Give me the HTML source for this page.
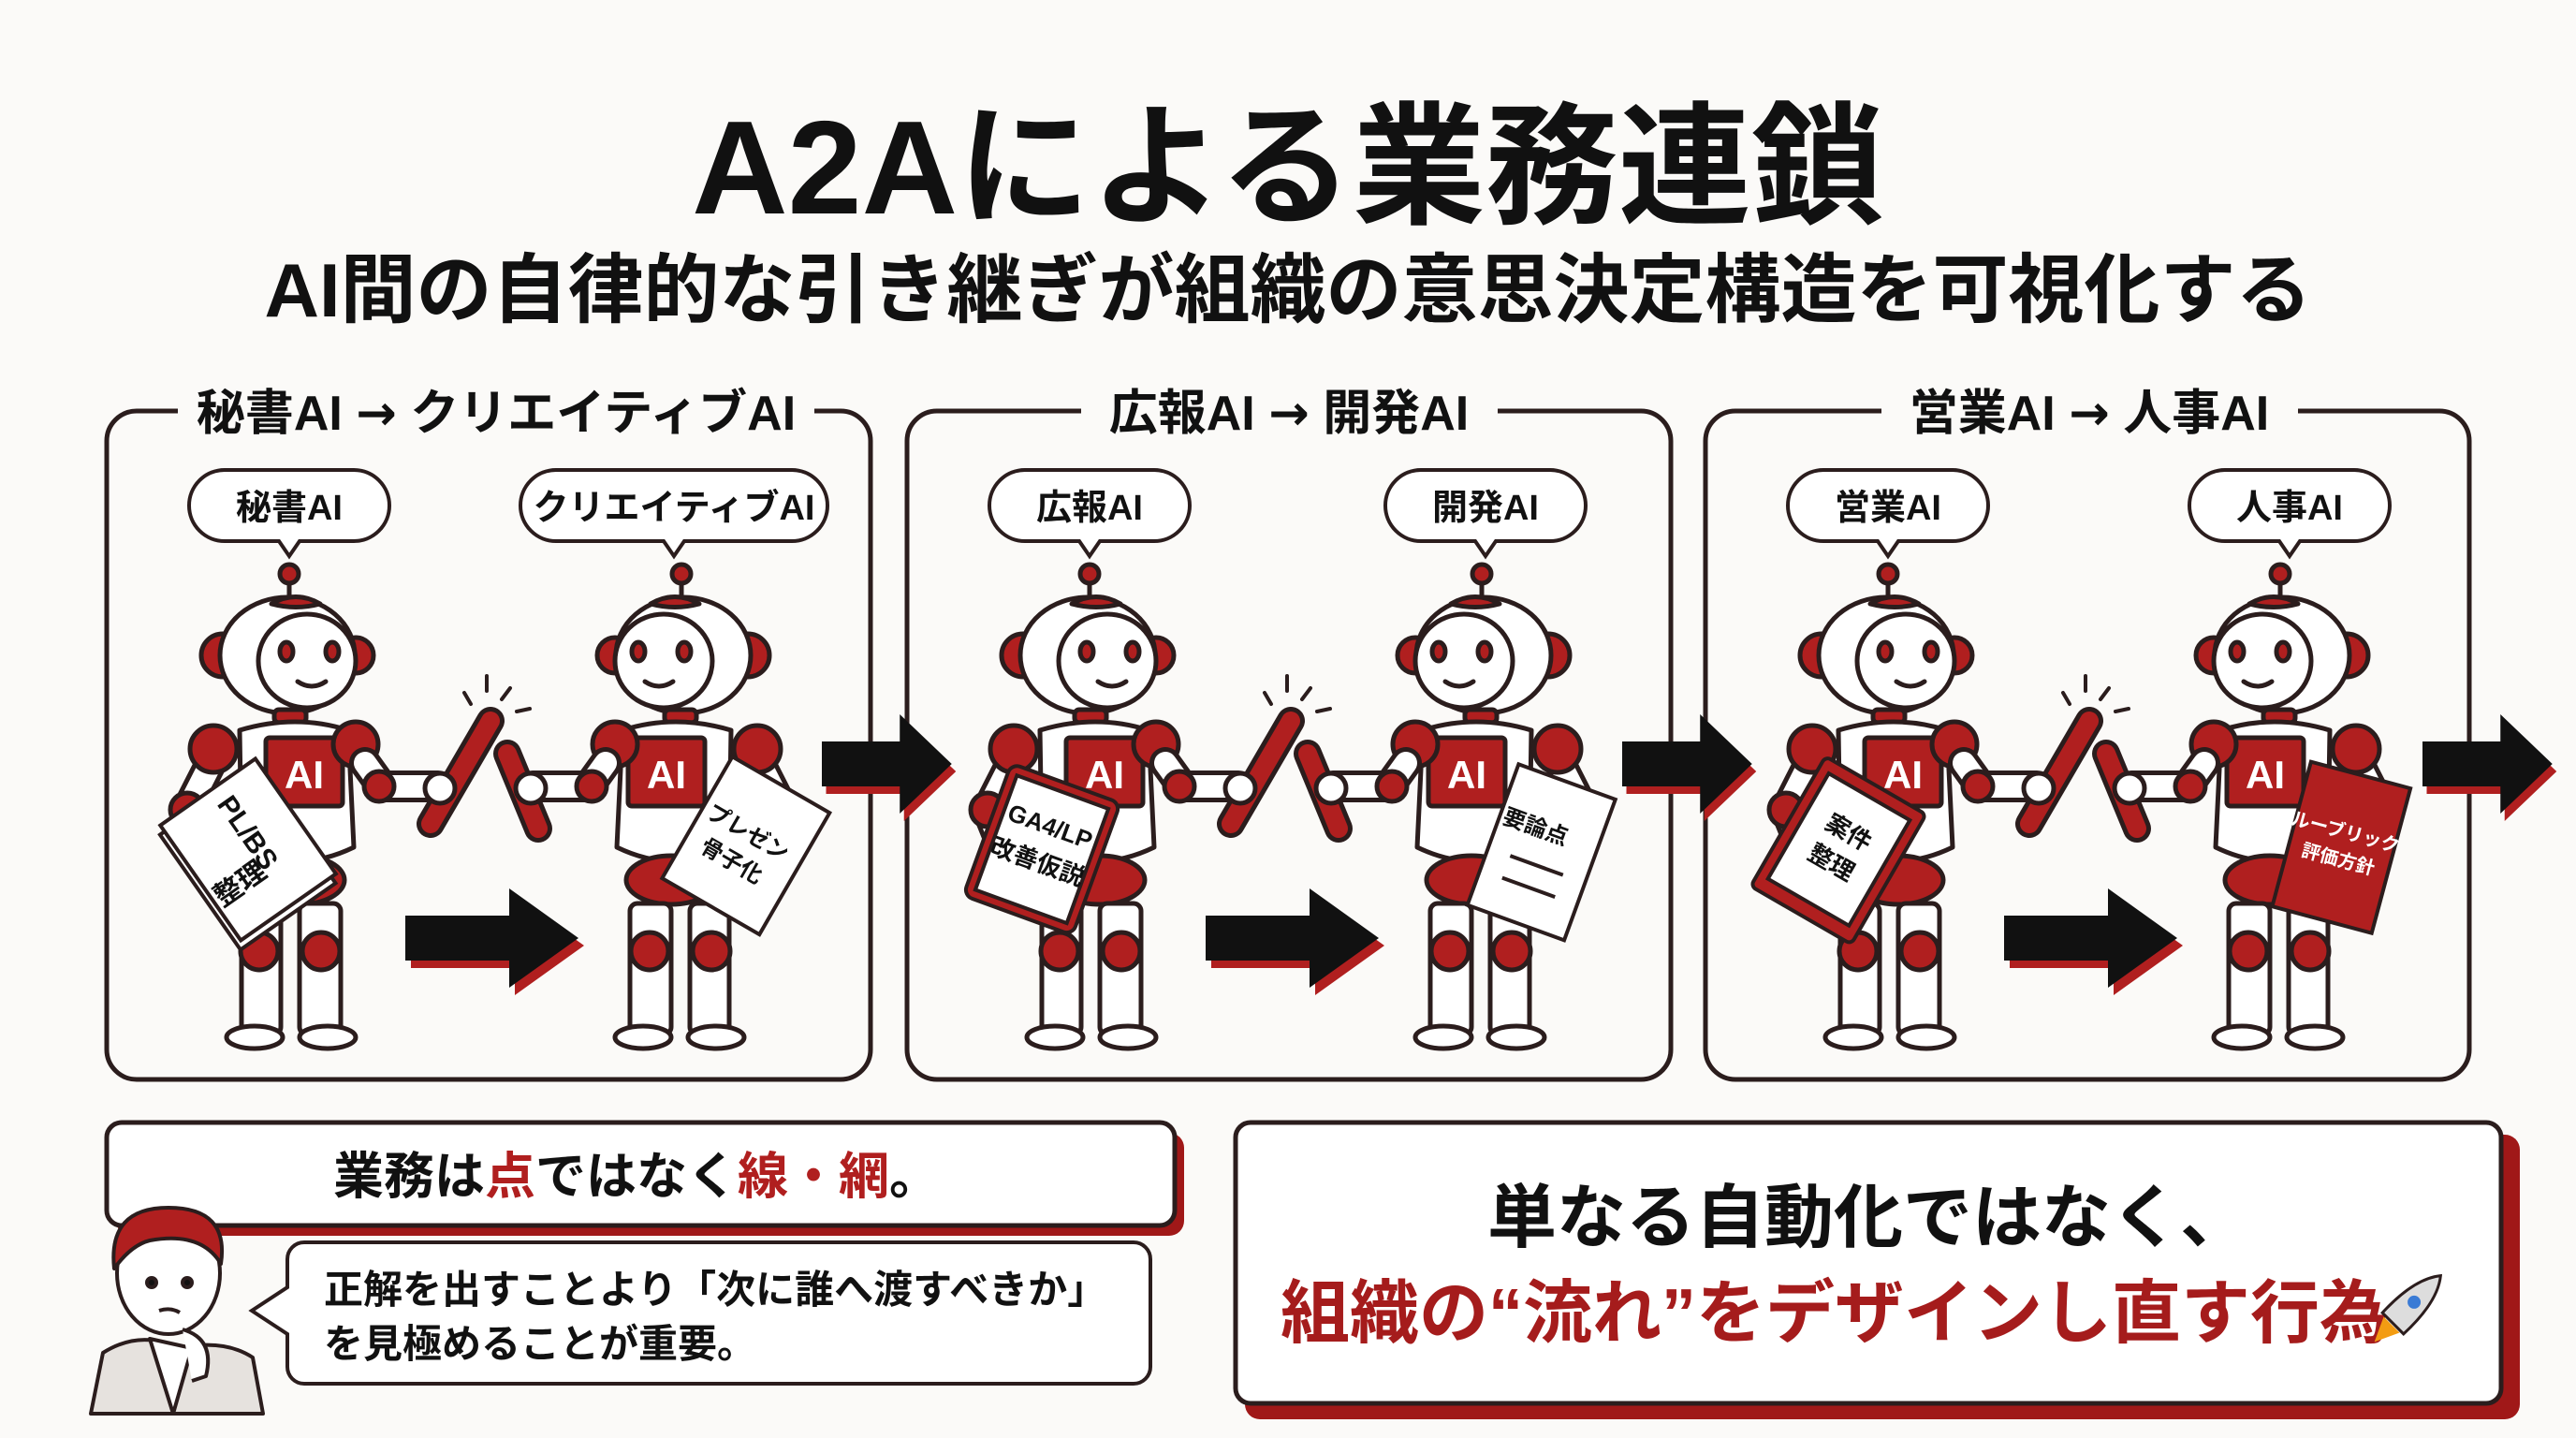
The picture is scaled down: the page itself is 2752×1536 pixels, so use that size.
<!DOCTYPE html>
<html><head><meta charset="utf-8"><style>
html,body{margin:0;padding:0;background:#fbfaf8;}
svg{display:block}
text{font-family:"Liberation Sans","Noto Sans CJK JP",sans-serif;font-weight:700;}
.ar{font-family:"DejaVu Sans",sans-serif;font-weight:700;}
</style></head><body>
<svg width="2752" height="1536" viewBox="0 0 2752 1536" xmlns="http://www.w3.org/2000/svg">
<defs>
<g id="robot" stroke="#2b1d1d" stroke-width="5" stroke-linejoin="round" stroke-linecap="round">
  <line x1="309" y1="618" x2="309" y2="642"/>
  <circle cx="309" cy="613" r="10" fill="#b01f1f"/>
  <circle cx="238" cy="700" r="23" fill="#b01f1f"/>
  <circle cx="380" cy="700" r="19" fill="#b01f1f"/>
  <ellipse cx="307" cy="700" rx="72" ry="62" fill="#fff"/>
  <path d="M290 645 Q316 630 342 645 Q316 652 290 645Z" fill="#b01f1f"/>
  <ellipse cx="328" cy="706" rx="52" ry="50" fill="#fff"/>
  <ellipse cx="306" cy="696" rx="7" ry="10" fill="#b01f1f"/>
  <ellipse cx="355" cy="696" rx="7" ry="10" fill="#b01f1f"/>
  <path d="M318 728 Q333 738 348 728" fill="none"/>
  <rect x="293" y="758" width="34" height="14" rx="5" fill="#b01f1f"/>
  <path d="M228 810 L200 865 L228 935" fill="none" stroke-width="34"/>
  <path d="M228 810 L200 865 L228 935" fill="none" stroke="#fff" stroke-width="24"/>
  <circle cx="200" cy="865" r="18" fill="#b01f1f"/>
  <path d="M256 780 Q316 762 372 780 L378 905 Q316 935 258 905 Z" fill="#fff"/>
  <ellipse cx="320" cy="940" rx="48" ry="26" fill="#b01f1f"/>
  <rect x="284" y="788" width="82" height="73" rx="4" fill="#b01f1f"/>
  <circle cx="228" cy="800" r="25" fill="#b01f1f"/>
  <circle cx="380" cy="795" r="24" fill="#b01f1f"/>
  <path d="M390 815 L408 840 L468 840" fill="none" stroke-width="34"/>
  <path d="M390 815 L408 840 L468 840" fill="none" stroke="#fff" stroke-width="24"/>
  <circle cx="405" cy="840" r="16" fill="#b01f1f"/>
  <rect x="258" y="965" width="42" height="140" rx="8" fill="#fff"/>
  <rect x="320" y="965" width="44" height="140" rx="8" fill="#fff"/>
  <circle cx="277" cy="1016" r="20" fill="#b01f1f"/>
  <circle cx="343" cy="1016" r="20" fill="#b01f1f"/>
  <ellipse cx="272" cy="1108" rx="30" ry="12" fill="#fff"/>
  <ellipse cx="350" cy="1108" rx="30" ry="12" fill="#fff"/>
</g>
<g id="arrowS">
  <path d="M6 37 L117 37 L117 8 L191 61 L117 114 L117 85 L6 85Z" fill="#b01f1f"/>
  <path d="M0 29 L111 29 L111 0 L185 53 L111 106 L111 77 L0 77Z" fill="#111"/>
</g>
<g id="panelRobots">
  <use href="#robot"/>
  <use href="#robot" transform="translate(1037 0) scale(-1 1)"/>
  <g stroke="#2b1d1d" stroke-linecap="round">
    <line x1="460" y1="880" x2="524" y2="770" stroke-width="30"/>
    <line x1="460" y1="880" x2="524" y2="770" stroke="#b01f1f" stroke-width="20"/>
    <circle cx="470" cy="842" r="16" fill="#fff" stroke-width="5"/>
    <line x1="575" y1="885" x2="542" y2="805" stroke-width="30"/>
    <line x1="575" y1="885" x2="542" y2="805" stroke="#b01f1f" stroke-width="20"/>
    <circle cx="567" cy="842" r="16" fill="#fff" stroke-width="5"/>
    <g stroke-width="4">
    <line x1="496" y1="740" x2="503" y2="752"/><line x1="520" y1="722" x2="520" y2="738"/>
    <line x1="545" y1="735" x2="536" y2="747"/><line x1="552" y1="760" x2="566" y2="757"/></g>
  </g>
  <text x="325" y="842" text-anchor="middle" font-size="42" fill="#fff">AI</text>
  <text x="712" y="842" text-anchor="middle" font-size="42" fill="#fff">AI</text>
  <use href="#arrowS" transform="translate(433 949)"/>
  <path d="M202 540 a38 38 0 0 1 38 -38 h138 a38 38 0 0 1 38 38 a38 38 0 0 1 -38 38 h-58 l-11 16 l-11 -16 h-58 a38 38 0 0 1 -38 -38z" fill="#fff" stroke="#2b1d1d" stroke-width="4"/>
</g>
</defs>

<text x="1376" y="228" text-anchor="middle" font-size="142" font-weight="900" fill="#111">A2Aによる業務連鎖</text>
<text x="1376" y="338" text-anchor="middle" font-size="81" fill="#111">AI間の自律的な引き継ぎが組織の意思決定構造を可視化する</text>

<g fill="none" stroke="#2b1d1d" stroke-width="5">
<rect x="114" y="439" width="816" height="714" rx="32"/>
<rect x="969" y="439" width="816" height="714" rx="32"/>
<rect x="1822" y="439" width="816" height="714" rx="32"/>
</g>
<g fill="#fbfaf8">
<rect x="190" y="415" width="680" height="50"/>
<rect x="1155" y="415" width="445" height="50"/>
<rect x="2010" y="415" width="445" height="50"/>
</g>
<g font-size="52" fill="#111" text-anchor="middle">
<text x="530" y="459">秘書AI <tspan class="ar">→</tspan> クリエイティブAI</text>
<text x="1377" y="459">広報AI <tspan class="ar">→</tspan> 開発AI</text>
<text x="2232" y="459">営業AI <tspan class="ar">→</tspan> 人事AI</text>
</g>

<use href="#panelRobots"/>
<use href="#panelRobots" transform="translate(855 0)"/>
<use href="#panelRobots" transform="translate(1708 0)"/>

<g fill="#fff" stroke="#2b1d1d" stroke-width="4">
<path d="M556 540 a38 38 0 0 1 38 -38 h252 a38 38 0 0 1 38 38 a38 38 0 0 1 -38 38 h-115 l-11 16 l-11 -16 h-115 a38 38 0 0 1 -38 -38z"/>
<path d="M1480 540 a38 38 0 0 1 38 -38 h138 a38 38 0 0 1 38 38 a38 38 0 0 1 -38 38 h-58 l-11 16 l-11 -16 h-58 a38 38 0 0 1 -38 -38z"/>
<path d="M2339 540 a38 38 0 0 1 38 -38 h138 a38 38 0 0 1 38 38 a38 38 0 0 1 -38 38 h-58 l-11 16 l-11 -16 h-58 a38 38 0 0 1 -38 -38z"/>
</g>

<g font-size="38" fill="#111" text-anchor="middle">
<text x="309" y="555">秘書AI</text><text x="720" y="555">クリエイティブAI</text>
<text x="1164" y="555">広報AI</text><text x="1587" y="555">開発AI</text>
<text x="2017" y="555">営業AI</text><text x="2446" y="555">人事AI</text>
</g>

<use href="#arrowS" transform="translate(878 763) scale(0.75 1)"/>
<use href="#arrowS" transform="translate(1733 763) scale(0.75 1)"/>
<use href="#arrowS" transform="translate(2588 763) scale(0.75 1)"/>

<g stroke="#2b1d1d" stroke-width="4">
<g transform="translate(263 915) rotate(-35)">
  <rect x="-62" y="-72" width="124" height="150" fill="#fff"/>
  <rect x="-56" y="-80" width="124" height="150" fill="#fff"/>
  <text x="6" y="-20" text-anchor="middle" font-size="30" fill="#111" stroke="none" transform="rotate(90 6 -20)">PL/BS</text>
  <text x="-22" y="30" text-anchor="middle" font-size="30" fill="#111" stroke="none">整理</text>
</g>
<g transform="translate(790 905) rotate(30)">
  <rect x="-55" y="-80" width="120" height="150" fill="#fff"/>
  <text x="0" y="-10" text-anchor="middle" font-size="24" fill="#111" stroke="none">プレゼン</text>
  <text x="0" y="25" text-anchor="middle" font-size="24" fill="#111" stroke="none">骨子化</text>
</g>
<g transform="translate(1112 910) rotate(20)">
  <rect x="-62" y="-78" width="124" height="150" rx="10" fill="#b01f1f"/>
  <rect x="-52" y="-68" width="104" height="130" fill="#fff"/>
  <text x="0" y="-20" text-anchor="middle" font-size="26" fill="#111" stroke="none">GA4/LP</text>
  <text x="0" y="20" text-anchor="middle" font-size="26" fill="#111" stroke="none">改善仮説</text>
</g>
<g transform="translate(1645 915) rotate(20)">
  <rect x="-55" y="-85" width="110" height="160" fill="#fff"/>
  <text x="-15" y="-20" text-anchor="middle" font-size="24" fill="#111" stroke="none">要論点</text>
  <line x1="-30" y1="10" x2="30" y2="10"/><line x1="-30" y1="35" x2="30" y2="35"/>
</g>
<g transform="translate(1963 910) rotate(30)">
  <rect x="-62" y="-82" width="124" height="160" rx="6" fill="#b01f1f"/>
  <rect x="-50" y="-68" width="100" height="130" fill="#fff"/>
  <text x="0" y="-15" text-anchor="middle" font-size="26" fill="#111" stroke="none">案件</text>
  <text x="0" y="22" text-anchor="middle" font-size="26" fill="#111" stroke="none">整理</text>
</g>
<g transform="translate(2500 910) rotate(15)">
  <rect x="-55" y="-85" width="110" height="160" fill="#b01f1f"/>
  <text x="0" y="-15" text-anchor="middle" font-size="20" fill="#fff" stroke="none">ルーブリック</text>
  <text x="0" y="15" text-anchor="middle" font-size="20" fill="#fff" stroke="none">評価方針</text>
</g>
</g>

<rect x="124" y="1210" width="1141" height="110" rx="16" fill="#a01818"/>
<rect x="114" y="1199" width="1141" height="110" rx="16" fill="#fff" stroke="#2b1d1d" stroke-width="5"/>
<text x="680" y="1275" text-anchor="middle" font-size="54" fill="#111">業務は<tspan fill="#b01f1f">点</tspan>ではなく<tspan fill="#b01f1f">線・網</tspan>。</text>

<path d="M307 1345 a18 18 0 0 1 18 -18 h886 a18 18 0 0 1 18 18 v115 a18 18 0 0 1 -18 18 h-886 a18 18 0 0 1 -18 -18 v-35 l-38 -25 l38 -25z" fill="#fff" stroke="#2b1d1d" stroke-width="4"/>
<text x="346" y="1392" font-size="42" fill="#111">正解を出すことより「次に誰へ渡すべきか」</text>
<text x="346" y="1450" font-size="42" fill="#111">を見極めることが重要。</text>

<g stroke="#2b1d1d" stroke-width="4" stroke-linejoin="round">
  <path d="M97 1510 L110 1445 Q150 1420 190 1440 Q240 1430 270 1450 L281 1510Z" fill="#e6e2de"/>
  <path d="M160 1430 L185 1510 L205 1440Z" fill="#fff"/>
  <ellipse cx="180" cy="1360" rx="55" ry="65" fill="#fff"/>
  <path d="M122 1355 Q115 1290 180 1290 Q245 1290 236 1350 Q215 1315 160 1325 Q140 1330 122 1355Z" fill="#b01f1f"/>
  <circle cx="162" cy="1370" r="5" fill="#111"/><circle cx="200" cy="1370" r="5" fill="#111"/>
  <path d="M170 1400 Q182 1396 192 1402" fill="none"/>
  <path d="M195 1420 Q230 1430 220 1470 L205 1475" fill="#fff"/>
</g>

<rect x="1330" y="1212" width="1362" height="304" rx="16" fill="#a01818"/>
<rect x="1320" y="1199" width="1352" height="300" rx="16" fill="#fff" stroke="#2b1d1d" stroke-width="5"/>
<text x="1996" y="1326" text-anchor="middle" font-size="74" fill="#111">単なる自動化ではなく、</text>
<text x="1960" y="1428" text-anchor="middle" font-size="74" fill="#a51c1c">組織の“流れ”をデザインし直す行為</text>
<g transform="translate(2572 1398) rotate(45)">
  <path d="M0 -50 Q18 -28 16 22 L-16 22 Q-18 -28 0 -50Z" fill="#ddd" stroke="#2b1d1d" stroke-width="3"/>
  <circle cx="0" cy="-10" r="7" fill="#3a7bd5"/>
  <path d="M-12 24 L0 50 L12 24Z" fill="#f39c12"/>
</g>
</svg>
</body></html>
